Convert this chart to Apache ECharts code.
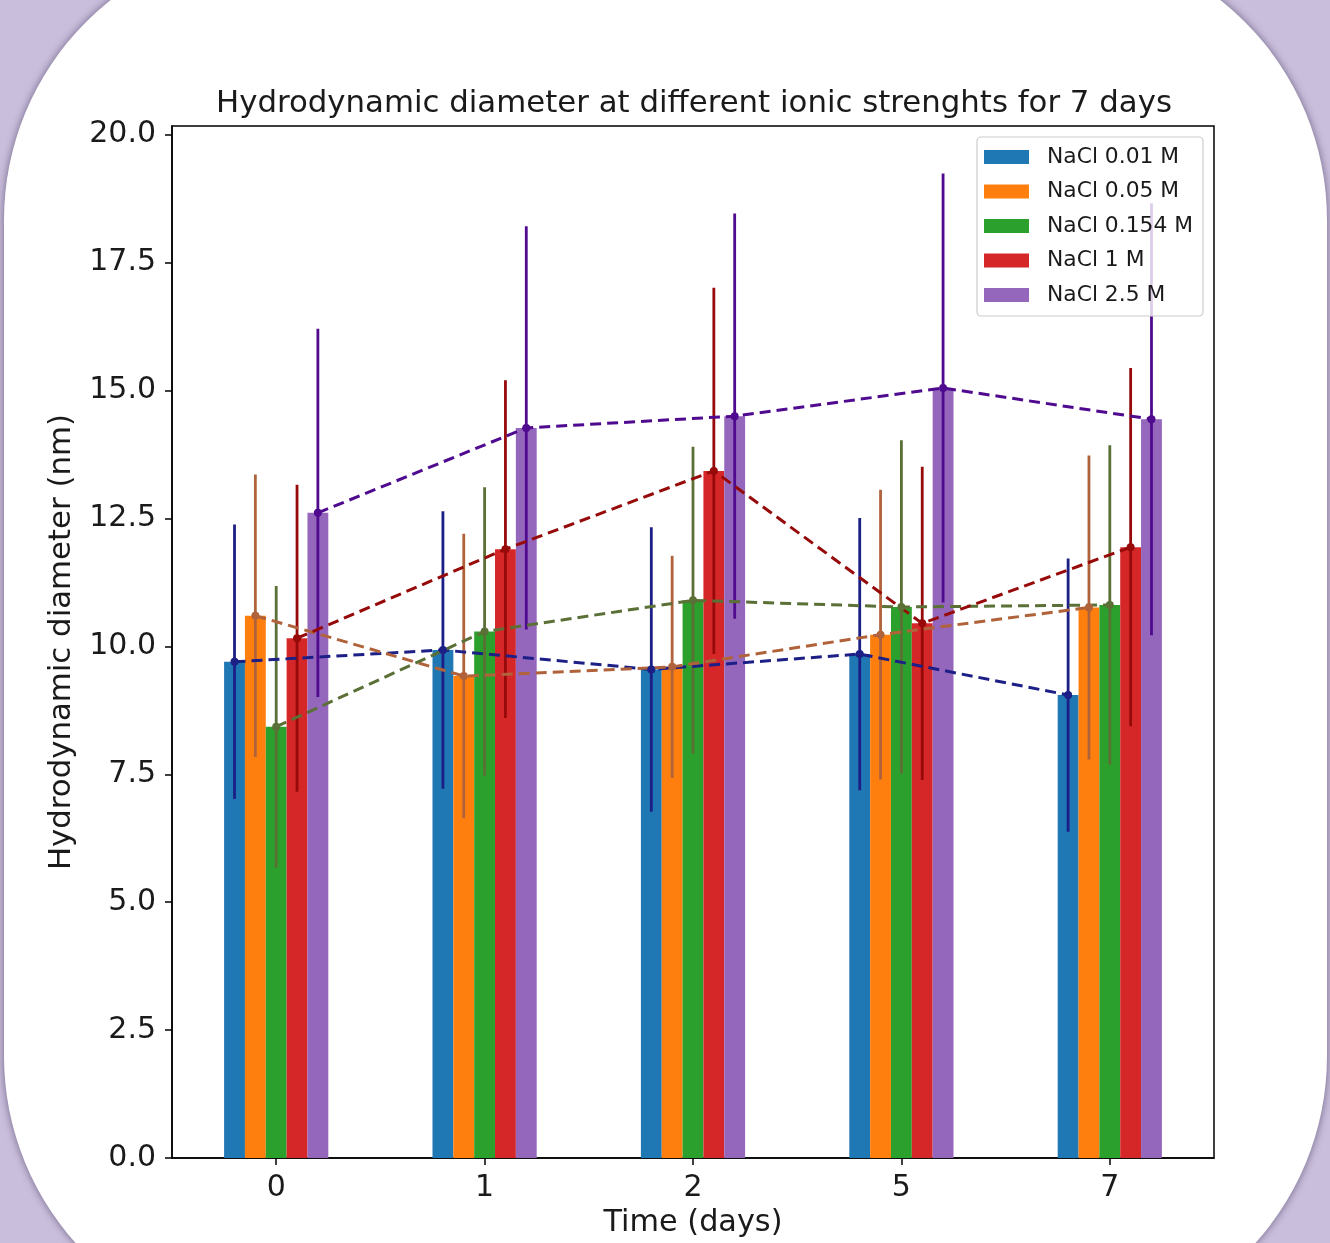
<!DOCTYPE html>
<html>
<head>
<meta charset="utf-8">
<script src="https://cdn.jsdelivr.net/npm/echarts@6/dist/echarts.min.js"></script>
<style>
  html, body { margin: 0; padding: 0; width: 1330px; height: 1243px; overflow: hidden; background: #c9bedb; }
  #card { position: absolute; left: 4px; top: -60px; width: 1323px; height: 1396px; border-radius: 280px; background: #ffffff;
          box-shadow: 0 0 7px 1px rgba(70, 55, 95, 0.55); }
  #chart { position: absolute; left: 0; top: 0; width: 1330px; height: 1243px; }
</style>
</head>
<body>
<div id="card"></div>
<div id="chart"></div>
<script>
// ---- data ----
const days = ['0', '1', '2', '5', '7'];
const seriesNames = ['NaCl 0.01 M', 'NaCl 0.05 M', 'NaCl 0.154 M', 'NaCl 1 M', 'NaCl 2.5 M'];
const mean001  = [9.70, 9.93, 9.55, 9.85, 9.05];
const mean005  = [10.60, 9.42, 9.60, 10.23, 10.76];
const mean0154 = [8.43, 10.29, 10.90, 10.77, 10.81];
const mean1    = [10.16, 11.90, 13.43, 10.45, 11.94];
const mean25   = [12.61, 14.27, 14.50, 15.05, 14.44];
const err001   = [2.68, 2.71, 2.78, 2.66, 2.67];
const err005   = [2.76, 2.78, 2.17, 2.83, 2.97];
const err0154  = [2.75, 2.82, 3.00, 3.26, 3.12];
const err1     = [3.00, 3.30, 3.58, 3.06, 3.50];
const err25    = [3.60, 3.94, 3.96, 4.19, 4.22];
const yTicks   = [0, 2.5, 5, 7.5, 10, 12.5, 15, 17.5, 20];

const means = [mean001, mean005, mean0154, mean1, mean25];
const errs  = [err001, err005, err0154, err1, err25];

// ---- styles ----
const barColors  = ['#1f77b4', '#ff7f0e', '#2ca02c', '#d62728', '#9467bd'];
const lineColors = ['#1c1f86', '#b0623a', '#5a7036', '#960a0a', '#4f0a8f'];
const FONT = 'DejaVu Sans';
const TXT = '#1a1a1a';
const barW = 0.1; // fraction of the category band per bar

const series = [];
means.forEach((m, k) => {
  series.push({
    name: seriesNames[k], type: 'bar', data: m, barWidth: '10%', barGap: '0%',
    itemStyle: { color: barColors[k] }, z: 2, silent: true
  });
});
means.forEach((m, k) => {
  const off = (k - 2) * barW;
  const ebData = m.map((v, i) => [i + off, v - errs[k][i], v + errs[k][i]]);
  series.push({
    name: 'err' + k, type: 'custom', xAxisIndex: 1, yAxisIndex: 0, z: 3, silent: true,
    data: ebData, encode: { x: 0, y: [1, 2] },
    renderItem: (params, api) => {
      const p1 = api.coord([api.value(0), api.value(1)]);
      const p2 = api.coord([api.value(0), api.value(2)]);
      return { type: 'line', shape: { x1: p1[0], y1: p1[1], x2: p2[0], y2: p2[1] },
               style: { stroke: lineColors[k], lineWidth: 2.8 } };
    }
  });
  series.push({
    name: 'line' + k, type: 'line', xAxisIndex: 1, yAxisIndex: 0, z: 4, silent: true,
    data: m.map((v, i) => [i + off, v]),
    symbol: 'circle', symbolSize: 8, showSymbol: true,
    itemStyle: { color: lineColors[k] },
    lineStyle: { color: lineColors[k], width: 3, type: [11, 6] },
    animation: false
  });
});

const chart = echarts.init(document.getElementById('chart'), null, { renderer: 'canvas' });
chart.setOption({
  animation: false,
  backgroundColor: 'transparent',
  textStyle: { fontFamily: FONT },
  title: {
    text: 'Hydrodynamic diameter at different ionic strenghts for 7 days',
    left: 689, top: 83, textAlign: 'center',
    textStyle: { fontFamily: FONT, fontSize: 30.8, fontWeight: 'normal', color: TXT }
  },
  legend: {
    data: seriesNames, orient: 'vertical', left: 977, top: 137,
    icon: 'rect', itemWidth: 45, itemHeight: 14, itemGap: 12.5,
    padding: [9, 10, 10, 7],
    backgroundColor: 'rgba(255,255,255,0.8)', borderColor: '#cccccc', borderWidth: 1.2, borderRadius: 4,
    selectedMode: false,
    textStyle: { fontFamily: FONT, fontSize: 21.8, color: TXT, padding: [0, 0, 0, 13] }
  },
  grid: { left: 172, right: 116, top: 126, bottom: 82, show: true, borderColor: '#000', borderWidth: 1.5, backgroundColor: 'transparent' },
  xAxis: [
    {
      type: 'category', data: days,
      axisLine: { show: true, onZero: false, lineStyle: { color: '#000', width: 1.5 } },
      axisTick: { show: true, alignWithLabel: true, length: 7, lineStyle: { color: '#000', width: 1.5 } },
      axisLabel: { fontFamily: FONT, fontSize: 30, color: TXT, margin: 15 },
      splitLine: { show: false },
      name: 'Time (days)', nameLocation: 'middle', nameGap: 48,
      nameTextStyle: { fontFamily: FONT, fontSize: 30.3, color: TXT }
    },
    { type: 'value', min: -0.5, max: 4.5, show: false }
  ],
  yAxis: {
    type: 'value', min: 0, max: 20.17,
    axisLine: { show: true, onZero: false, lineStyle: { color: '#000', width: 1.5 } },
    axisTick: { show: true, length: 7, customValues: yTicks, lineStyle: { color: '#000', width: 1.5 } },
    axisLabel: { fontFamily: FONT, fontSize: 30, color: TXT, margin: 16, customValues: yTicks,
                 formatter: v => Number(v).toFixed(1) },
    splitLine: { show: false },
    name: 'Hydrodynamic diameter (nm)', nameLocation: 'middle', nameGap: 95,
    nameTextStyle: { fontFamily: FONT, fontSize: 30.8, color: TXT }
  },
  series: series
});
</script>
</body>
</html>
